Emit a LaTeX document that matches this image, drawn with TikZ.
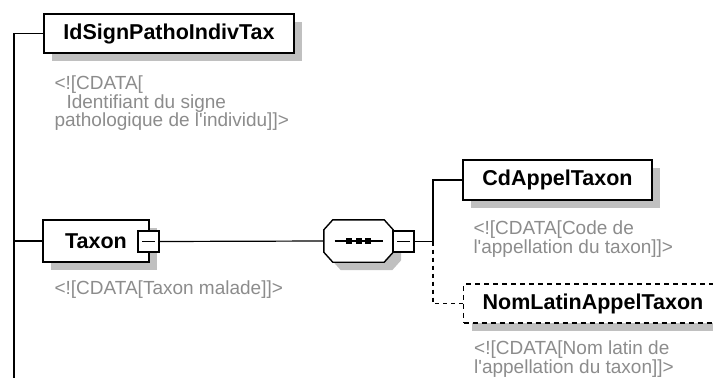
\documentclass[tikz,border=0pt]{standalone}
\usepackage{fontspec}
\setmainfont{Liberation Sans}
\usetikzlibrary{positioning,shadows}
\definecolor{docgray}{RGB}{140,140,140}
\definecolor{shadegray}{RGB}{192,192,192}

\begin{document}
\begin{tikzpicture}[x=1pt,y=-1pt,
  elem/.style={draw,line width=1.4pt,fill=white,inner xsep=0pt,inner ysep=0pt,
    font=\fontsize{21.5}{24}\selectfont\bfseries,
    general shadow={fill=shadegray,shadow xshift=8pt,shadow yshift=-8pt}},
  optelem/.style={elem,dash pattern=on 5pt off 4pt},
  doc/.style={inner sep=0pt,align=left,text=docgray,
    font=\fontsize{19}{18.5}\selectfont},
  minus/.style={draw,line width=1.3pt,fill=white,minimum size=21pt,inner sep=0pt,
    path picture={\draw[line width=1.3pt]
      ([xshift=4pt]path picture bounding box.west) --
      ([xshift=-4pt]path picture bounding box.east);}},
  compositor/.style={minimum width=69pt,minimum height=42pt,inner sep=0pt},
  octagon/.style={line width=1.4pt,fill=white,
    general shadow={fill=shadegray,shadow xshift=8pt,shadow yshift=-8pt}},
  link/.style={line width=1.2pt},
  optlink/.style={link,dash pattern=on 4pt off 4pt}]
  \clip (0,0) rectangle (713,378);
  \coordinate (spine) at (14,378);
  \coordinate (fork) at (433,241.5);
  \node[elem,minimum width=250pt,minimum height=39pt] (idsign) at (169,33.5)
    {IdSignPathoIndivTax};
  \node[doc,below right=22pt and 11pt of idsign.south west] (idsigndoc)
    {<![CDATA[\\\hspace*{12pt}Identifiant du signe\\pathologique de
    l\textquotesingle individu]]>};
  \node[elem,minimum width=106pt,minimum height=42pt] (taxon) at (96,241)
    {Taxon};
  \node[minus] (taxonminus) at (148.5,241.5) {};
  \node[doc,below right=18pt and 12pt of taxon.south west] (taxondoc)
    {<![CDATA[Taxon malade]]>};
  \node[compositor] (sequence) at (358.5,241) {};
  \draw[octagon] ([xshift=9pt]sequence.north west)
    -- ([xshift=-9pt]sequence.north east) -- ([yshift=-10pt]sequence.north east)
    -- ([yshift=10pt]sequence.south east) -- ([xshift=-9pt]sequence.south east)
    -- ([xshift=9pt]sequence.south west) -- ([yshift=10pt]sequence.south west)
    -- ([yshift=-10pt]sequence.north west) -- cycle;
  \draw[link] ([xshift=-24pt]sequence.center) -- ([xshift=24pt]sequence.center);
  \foreach \dx in {-9.5,0,9.5}
    \fill ([xshift=\dx pt]sequence.center) +(-3,-3) rectangle +(3,3);
  \node[minus] (seqminus) at (403.5,241.5) {};
  \node[elem,minimum width=189pt,minimum height=40pt] (cdappel) at (557.5,180)
    {CdAppelTaxon};
  \node[doc,below right=20pt and 11pt of cdappel.south west] (cdappeldoc)
    {<![CDATA[Code de\\l\textquotesingle appellation du taxon]]>};
  \node[optelem,anchor=west,inner xsep=19pt,minimum height=39pt] (nomlatin)
    at (463,303.5) {NomLatinAppelTaxon};
  \node[doc,below right=17pt and 11pt of nomlatin.south west] (nomlatindoc)
    {<![CDATA[Nom latin de\\l\textquotesingle appellation du taxon]]>};
  \draw[link] (idsign.west) -| (spine);
  \draw[link] (taxon.west) -- (taxon.west -| spine);
  \draw[link] (taxonminus.east) -- (sequence.west);
  \draw[link] (seqminus.east) -- (fork) |- (cdappel.west);
  \draw[optlink] (fork) |- (nomlatin.west);
\end{tikzpicture}
\end{document}
